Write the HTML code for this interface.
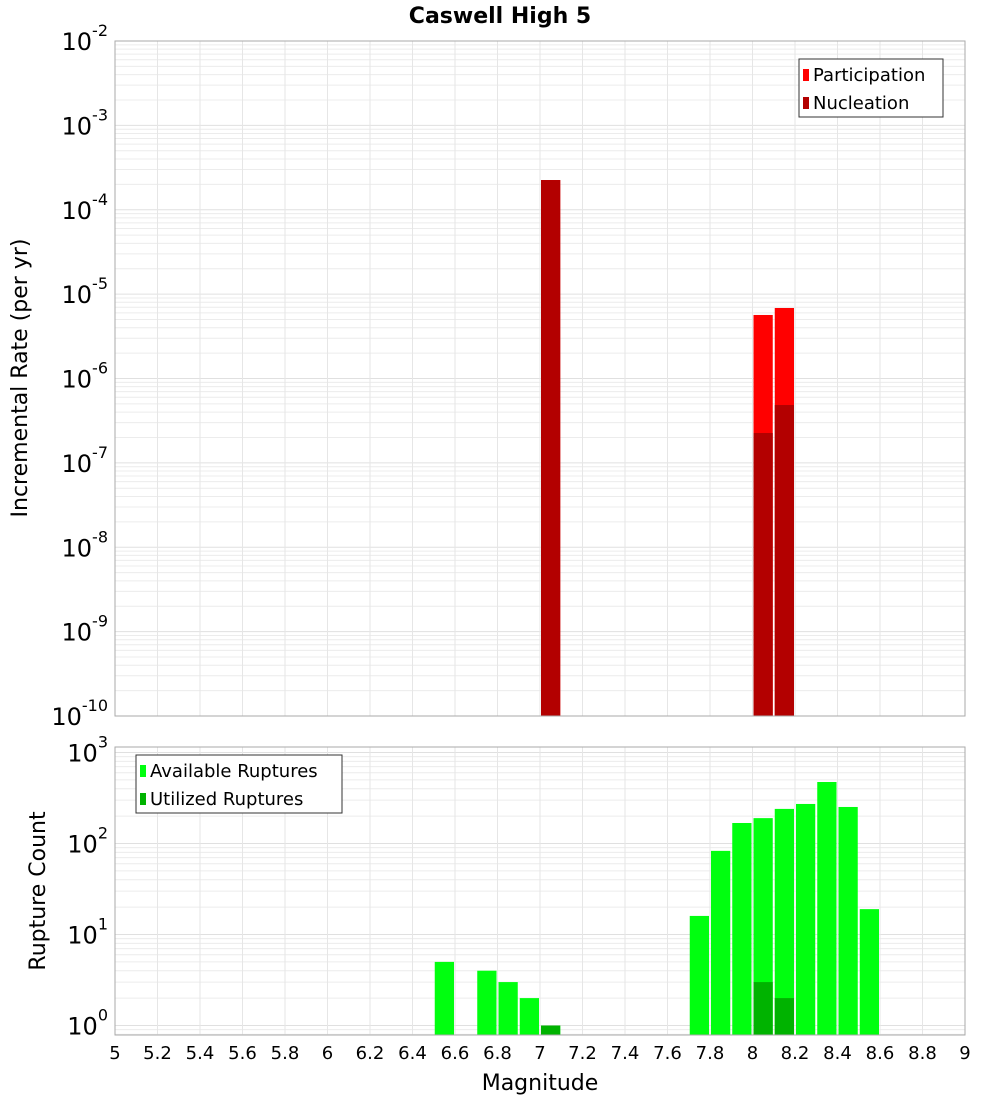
<!DOCTYPE html>
<html><head><meta charset="utf-8"><style>
body{margin:0;background:#fff;}
svg text{font-family:"DejaVu Sans","Liberation Sans",sans-serif;}
</style></head><body>
<svg id="c" width="1000" height="1100" xmlns="http://www.w3.org/2000/svg">
<text x="500" y="23" text-anchor="middle" font-size="22" font-weight="bold">Caswell High 5</text>
<g id="topPanel"></g><g id="botPanel"></g>
<text x="540" y="1090" text-anchor="middle" font-size="22">Magnitude</text>
<text transform="translate(27,378) rotate(-90)" text-anchor="middle" font-size="22">Incremental Rate (per yr)</text>
<text transform="translate(45,891) rotate(-90)" text-anchor="middle" font-size="22">Rupture Count</text>
</svg>
<script>
const topMags=[7.05,8.05,8.15];
const participation=[2.25e-4,5.66e-6,6.85e-6];
const nucleation=[2.25e-4,2.26e-7,4.85e-7];
const botMags=[6.55,6.75,6.85,6.95,7.05,7.75,7.85,7.95,8.05,8.15,8.25,8.35,8.45,8.55];
const available=[5,4,3,2,1,16,83,168,190,240,272,474,252,19];
const utilizedMags=[7.05,8.05,8.15];
const utilized=[1,3,2];
const xTicks=[5,5.2,5.4,5.6,5.8,6,6.2,6.4,6.6,6.8,7,7.2,7.4,7.6,7.8,8,8.2,8.4,8.6,8.8,9];
const topDecades=[-10,-9,-8,-7,-6,-5,-4,-3,-2];
const botDecades=[0,1,2,3];

const NS="http://www.w3.org/2000/svg";
const X0=115,X1=965;
function x(m){return X0+(m-5)/4*(X1-X0);}
function yTop(v){return 41+(-2-Math.log10(v))*84.375;}
function yBot(v){return 1025.5-Math.log10(v)*91;}
function mk(p,tag,a){const e=document.createElementNS(NS,tag);for(const k in a)e.setAttribute(k,a[k]);p.appendChild(e);return e;}

function panel(g,y0,y1,yf,decs,lmin,lmax){
  for(let d=Math.floor(lmin);d<=lmax;d++){
    for(let k=1;k<10;k++){const v=k*Math.pow(10,d);const L=Math.log10(v);if(L<lmin||L>lmax)continue;
      const gl=mk(g,'line',{x1:X0,x2:X1,y1:yf(v),y2:yf(v),stroke:k==1?'#e0e0e0':'#ececec','stroke-width':1});
      
      }
  }
  xTicks.forEach(t=>{const gl=mk(g,'line',{x1:x(t),x2:x(t),y1:y0,y2:y1,stroke:'#e6e6e6'});
    
    });
  decs.forEach(d=>{const t=mk(g,'text',{x:108,y:yf(Math.pow(10,d))+9,'text-anchor':'end','font-size':24});
    
    
    t.textContent='10';const s=mk(t,'tspan',{dy:-14,'font-size':16});s.textContent=String(d);});
}
const topG=document.getElementById('topPanel'),botG=document.getElementById('botPanel');
panel(topG,41,716,yTop,topDecades,-10,-2);
panel(botG,747,1035,yBot,botDecades,-0.104,3.06);

function bar(g,m,v,yf,base,col,name){const xa=x(m-0.05)+1,xb=x(m+0.05)-1;const yy=yf(v);
  const r=mk(g,'rect',{x:xa,y:yy,width:xb-xa,height:base-yy,fill:col});
  
  }
topMags.forEach((m,i)=>bar(topG,m,participation[i],yTop,716,'#ff0000','participation-bar'));
topMags.forEach((m,i)=>bar(topG,m,nucleation[i],yTop,716,'#b30000','nucleation-bar'));
botMags.forEach((m,i)=>bar(botG,m,available[i],yBot,1035,'#00ff0f','available-bar'));
utilizedMags.forEach((m,i)=>bar(botG,m,utilized[i],yBot,1035,'#00b300','utilized-bar'));

mk(topG,'rect',{x:X0,y:41,width:X1-X0,height:675,fill:'none',stroke:'#aaa'});
mk(botG,'rect',{x:X0,y:747,width:X1-X0,height:288,fill:'none',stroke:'#aaa'});
xTicks.forEach(t=>{const e=mk(botG,'text',{x:x(t),y:1059,'text-anchor':'middle','font-size':18});
  
  
  e.textContent=String(t);});

function legend(g,lx,ly,w,items){const b=mk(g,'rect',{x:lx,y:ly,width:w,height:58,fill:'#fff',stroke:'#333'});
  
  
  items.forEach((it,i)=>{mk(g,'rect',{x:lx+4,y:ly+10+i*28,width:6,height:12,fill:it[1]});
    const t=mk(g,'text',{x:lx+14,y:ly+22+i*28,'font-size':18});
    
    
    t.textContent=it[0];});}
legend(topG,799,59,144,[['Participation','#ff0000'],['Nucleation','#b30000']]);
legend(botG,136,755,206,[['Available Ruptures','#00ff0f'],['Utilized Ruptures','#00b300']]);
</script>
</body></html>
